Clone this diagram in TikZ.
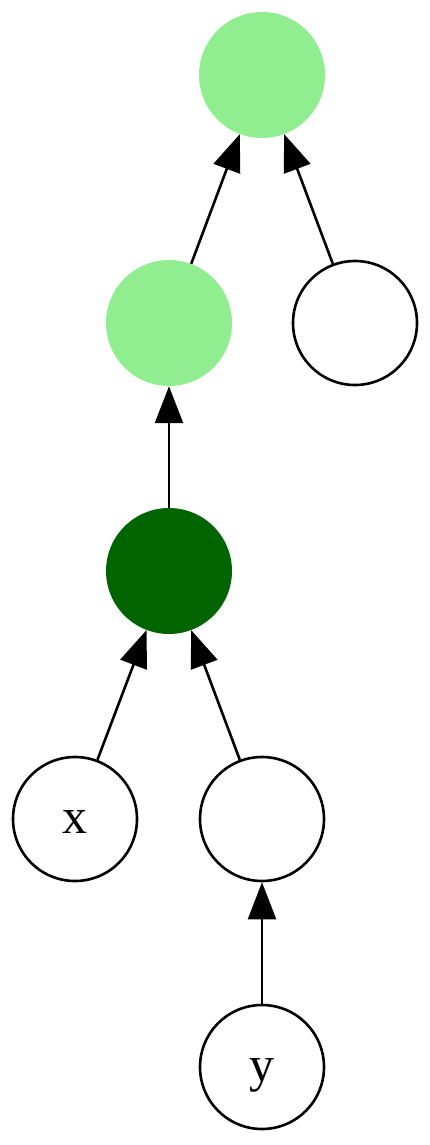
\documentclass[tikz,border=0pt]{standalone}
\usepackage{fontspec}
\setmainfont{Liberation Serif}
\usetikzlibrary{arrows.meta}
\definecolor{lgreen}{HTML}{90EE90}
\definecolor{dgreen}{HTML}{006400}
\begin{document}
\begin{tikzpicture}[x=1pt,y=-1pt,
  nd/.style={circle,minimum size=124pt,inner sep=0pt,font=\fontsize{50}{54}\selectfont},
  wnode/.style={nd,draw=black,line width=2.6pt,fill=white},
  lnode/.style={nd,fill=lgreen,minimum size=126pt},
  dnode/.style={nd,fill=dgreen,minimum size=126pt},
  lbl/.style={font=\fontsize{50}{54}\selectfont,inner sep=0pt},
  edge/.style={line width=2.6pt,-{Triangle[length=37pt,width=28pt]}}]
\useasboundingbox (0,0) rectangle (430,1145);
\node[lnode] (A) at (262,75) {};
\node[lnode] (B) at (169,323) {};
\node[wnode] (C) at (355,323) {};
\node[dnode] (D) at (169,571) {};
\node[wnode] (E) at (75,819) {};
\node[wnode] (F) at (262,819) {};
\node[wnode] (G) at (262,1067) {};
\node[lbl,anchor=base] (Ex) at (75,833) {x};
\node[lbl,anchor=base] (Gy) at (262,1081) {y};
\draw[edge] (B) -- (A);
\draw[edge] (C) -- (A);
\draw[edge] (D) -- (B);
\draw[edge] (E) -- (D);
\draw[edge] (F) -- (D);
\draw[edge] (G) -- (F);
\end{tikzpicture}
\end{document}
